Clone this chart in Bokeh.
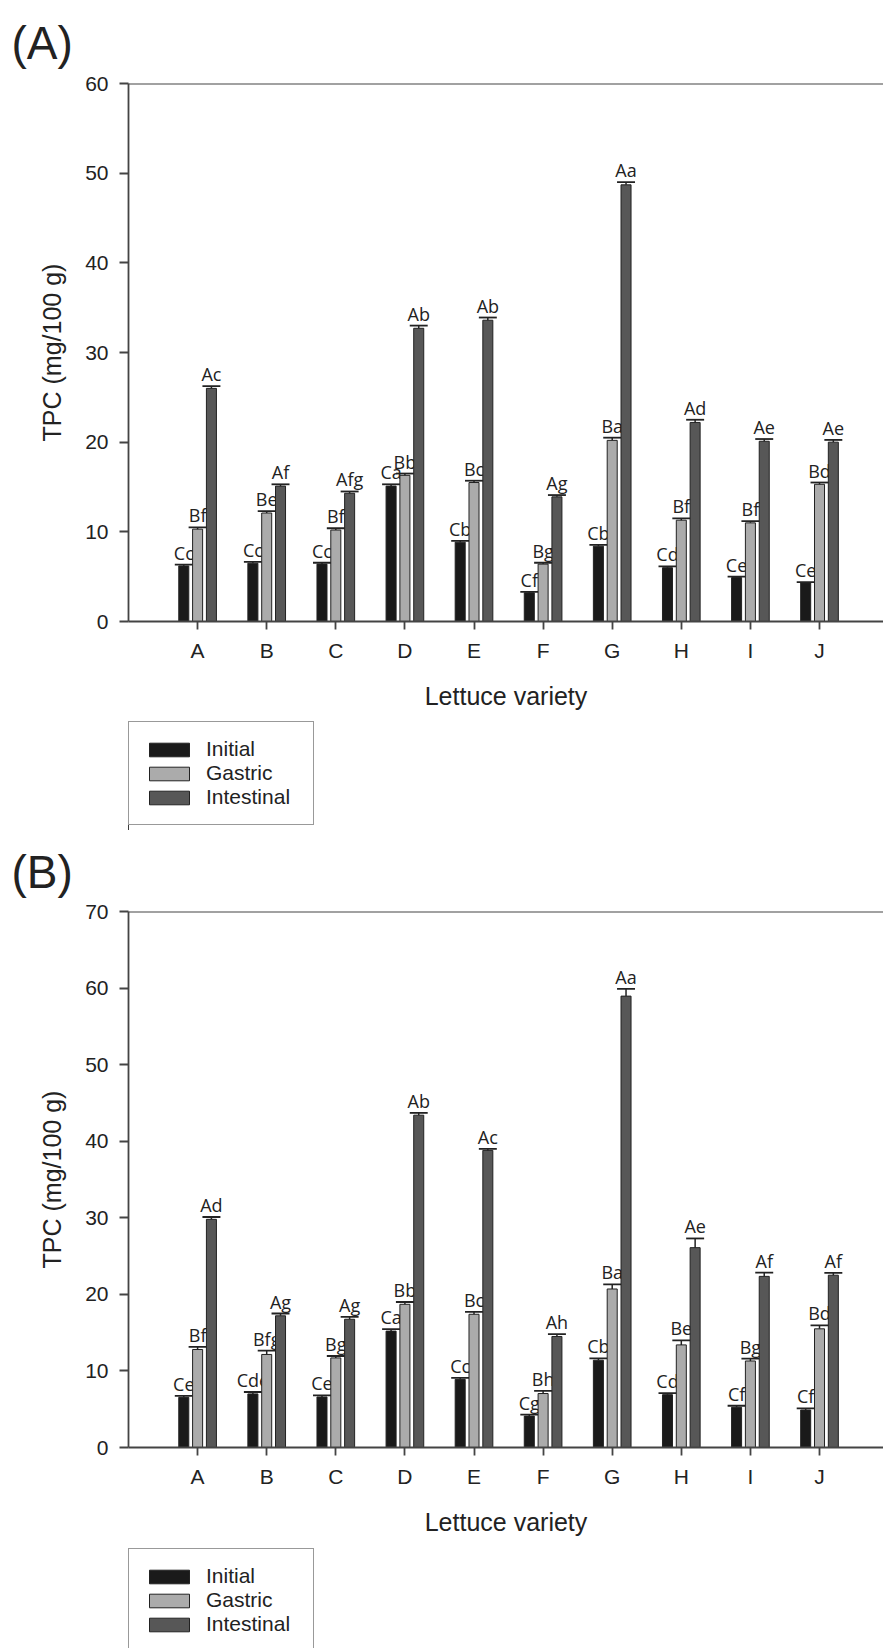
from bokeh.plotting import figure
from bokeh.models import (Range1d, FixedTicker, Legend, LegendItem, ColumnDataSource,
                          Span, Title)
from bokeh.layouts import column
from bokeh.embed import file_html
from bokeh.resources import INLINE
from bokeh.core.properties import value

# ---------------- data ----------------
varieties = ["A", "B", "C", "D", "E", "F", "G", "H", "I", "J"]
series_names = ["Initial", "Gastric", "Intestinal"]

# Panel (A)
a_initial = [6.2, 6.5, 6.4, 15.1, 8.85, 3.2, 8.4, 6.0, 4.9, 4.3]
a_gastric = [10.3, 12.1, 10.2, 16.3, 15.5, 6.4, 20.2, 11.3, 11.0, 15.3]
a_intestinal = [26.0, 15.1, 14.3, 32.7, 33.6, 13.9, 48.7, 22.2, 20.1, 20.0]
a_err_initial = [0.15, 0.15, 0.15, 0.2, 0.15, 0.1, 0.15, 0.15, 0.1, 0.1]
a_err_gastric = [0.2, 0.2, 0.2, 0.2, 0.2, 0.15, 0.3, 0.2, 0.2, 0.2]
a_err_intestinal = [0.25, 0.2, 0.2, 0.3, 0.3, 0.2, 0.3, 0.3, 0.25, 0.25]
a_lbl_initial = ["Cc", "Cc", "Cc", "Ca", "Cb", "Cf", "Cb", "Cd", "Ce", "Ce"]
a_lbl_gastric = ["Bf", "Be", "Bf", "Bb", "Bc", "Bg", "Ba", "Bf", "Bf", "Bd"]
a_lbl_intestinal = ["Ac", "Af", "Afg", "Ab", "Ab", "Ag", "Aa", "Ad", "Ae", "Ae"]

# Panel (B)
b_initial = [6.55, 7.0, 6.6, 15.2, 8.9, 4.1, 11.4, 6.9, 5.25, 4.9]
b_gastric = [12.8, 12.15, 11.7, 18.7, 17.4, 7.05, 20.7, 13.4, 11.3, 15.5]
b_intestinal = [29.8, 17.2, 16.75, 43.4, 38.8, 14.5, 58.95, 26.1, 22.35, 22.5]
b_err_initial = [0.2, 0.25, 0.2, 0.25, 0.2, 0.2, 0.25, 0.2, 0.2, 0.2]
b_err_gastric = [0.35, 0.5, 0.25, 0.3, 0.3, 0.35, 0.6, 0.6, 0.3, 0.45]
b_err_intestinal = [0.3, 0.3, 0.3, 0.3, 0.2, 0.3, 0.95, 1.2, 0.5, 0.3]
b_lbl_initial = ["Ce", "Cde", "Ce", "Ca", "Cc", "Cg", "Cb", "Cd", "Cf", "Cf"]
b_lbl_gastric = ["Bf", "Bfg", "Bg", "Bb", "Bc", "Bh", "Ba", "Be", "Bg", "Bd"]
b_lbl_intestinal = ["Ad", "Ag", "Ag", "Ab", "Ac", "Ah", "Aa", "Ae", "Af", "Af"]

# ---------------- styling ----------------
COLORS = ["#1a1a1a", "#ababab", "#575757"]
OFFSETS = [-0.2, 0.0, 0.2]
BAR_W = 0.145
CAP_HALF = 0.13
AX_COLOR = "#444444"
TXT_COLOR = "#222222"
SANS = "Liberation Sans"
W = 883


def make_panel(title, title_standoff, ymax, ystep, vals, errs, lbls, height,
               frame_h, top_b):
    bottom_b = height - top_b - frame_h
    p = figure(width=W, height=height, x_range=Range1d(0, 10.926),
               y_range=Range1d(0, ymax), output_backend="svg",
               toolbar_location=None, min_border_left=128, min_border_right=0,
               min_border_top=top_b, min_border_bottom=bottom_b)
    p.title = Title(text=title, align="left", offset=-117,
                    standoff=title_standoff, text_font=SANS,
                    text_font_size="46px", text_font_style="normal",
                    text_color=TXT_COLOR)
    p.xgrid.visible = False
    p.ygrid.visible = False
    p.outline_line_color = None
    p.background_fill_color = "white"

    xs = list(range(1, len(varieties) + 1))
    for k in range(3):
        xk = [x + OFFSETS[k] for x in xs]
        top = [v + e for v, e in zip(vals[k], errs[k])]
        src = ColumnDataSource(dict(x=xk, y=vals[k], top=top, lbl=lbls[k],
                                    xl=[x - CAP_HALF for x in xk],
                                    xr=[x + CAP_HALF for x in xk]))
        p.vbar(x="x", top="y", bottom=0, width=BAR_W, source=src,
               fill_color=COLORS[k], line_color="#222222", line_width=1)
        p.segment(x0="x", y0="y", x1="x", y1="top", source=src,
                  line_color="#222222", line_width=1.5)
        p.segment(x0="xl", y0="top", x1="xr", y1="top", source=src,
                  line_color="#222222", line_width=1.8)
        p.text(x="x", y="top", text="lbl", source=src, text_align="center",
               text_baseline="bottom", y_offset=0,
               text_font=value("Open Sans"), text_font_size="18px",
               text_color=TXT_COLOR)

    p.add_layout(Span(location=ymax, dimension="width", line_color=AX_COLOR,
                      line_width=1.8))

    # axes
    p.xaxis.ticker = FixedTicker(ticks=xs)
    p.xaxis.major_label_overrides = {x: v for x, v in zip(xs, varieties)}
    p.yaxis.ticker = FixedTicker(ticks=list(range(0, ymax + 1, ystep)))
    for ax in (p.xaxis, p.yaxis):
        ax.axis_line_color = AX_COLOR
        ax.axis_line_width = 1.8
        ax.major_tick_line_color = AX_COLOR
        ax.major_tick_line_width = 1.8
        ax.minor_tick_line_color = None
        ax.major_tick_in = 0
        ax.major_label_text_font = SANS
        ax.major_label_text_font_size = "21px"
        ax.major_label_text_color = TXT_COLOR
        ax.axis_label_text_font = SANS
        ax.axis_label_text_font_size = "25px"
        ax.axis_label_text_font_style = "normal"
        ax.axis_label_text_color = TXT_COLOR
    p.xaxis.major_tick_out = 8
    p.yaxis.major_tick_out = 9
    p.xaxis.major_label_standoff = 9
    p.yaxis.major_label_standoff = 11
    p.xaxis.axis_label = "Lettuce variety"
    p.yaxis.axis_label = "TPC (mg/100 g)"
    p.xaxis.axis_label_standoff = 17
    p.yaxis.axis_label_standoff = 16
    return p


def make_legend(height, top_b):
    q = figure(width=W, height=height, x_range=Range1d(0, 1),
               y_range=Range1d(0, 1), output_backend="svg",
               toolbar_location=None, x_axis_type=None, y_axis_type=None,
               min_border_left=127, min_border_right=0, min_border_top=top_b,
               min_border_bottom=0)
    q.outline_line_color = None
    q.grid.visible = False
    rs = []
    for k in range(3):
        # one key glyph per series, kept outside the visible frame
        rs.append(q.vbar(x=[-10], top=[0.5], width=0.1, fill_color=COLORS[k],
                         line_color="#222222", line_width=1))
    legend = Legend(items=[LegendItem(label=n, renderers=[r])
                           for n, r in zip(series_names, rs)],
                    location="top_left", orientation="vertical",
                    border_line_color="#333333", border_line_width=1.5,
                    padding=15, spacing=0, glyph_width=50, glyph_height=17,
                    label_height=17, label_width=92, label_standoff=12,
                    margin=0, label_text_font=SANS,
                    label_text_font_size="21px", label_text_color=TXT_COLOR,
                    background_fill_color="white", background_fill_alpha=1.0)
    q.add_layout(legend, "center")
    return q


pA = make_panel("(A)", 29, 60, 10,
                [a_initial, a_gastric, a_intestinal],
                [a_err_initial, a_err_gastric, a_err_intestinal],
                [a_lbl_initial, a_lbl_gastric, a_lbl_intestinal],
                height=712, frame_h=545, top_b=82)
lA = make_legend(118, 9)
pB = make_panel("(B)", 27, 70, 10,
                [b_initial, b_gastric, b_intestinal],
                [b_err_initial, b_err_gastric, b_err_intestinal],
                [b_lbl_initial, b_lbl_gastric, b_lbl_intestinal],
                height=708, frame_h=542, top_b=81)
lB = make_legend(110, 10)

layout = column(pA, lA, pB, lB, spacing=0)
open("out.html", "w").write(file_html(layout, INLINE))
